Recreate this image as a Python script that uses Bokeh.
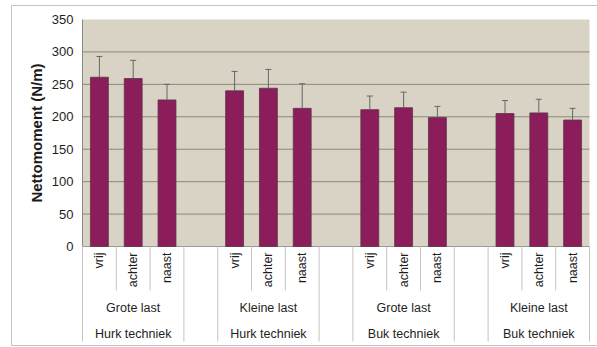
import math
from bokeh.plotting import figure
from bokeh.models import Range1d, ColumnDataSource
from bokeh.embed import file_html
from bokeh.resources import INLINE
from bokeh.core.properties import value

# ---------------- data ----------------
positions = ["vrij", "achter", "naast"]
loads = ["Grote last", "Kleine last", "Grote last", "Kleine last"]
techniques = ["Hurk techniek", "Hurk techniek", "Buk techniek", "Buk techniek"]
means = [
    [261, 259, 226],
    [240, 244, 213],
    [211, 214, 199],
    [205, 206, 195],
]
errors = [
    [32, 28, 24],
    [30, 29, 38],
    [21, 24, 17],
    [20, 21, 18],
]
y_ticks = [0, 50, 100, 150, 200, 250, 300, 350]
y_tick_labels = ["0", "50", "100", "150", "200", "250", "300", "350"]
y_label = "Nettomoment (N/m)"

# ---------------- layout (pixels) ----------------
W, H = 597, 347
PX_L, PX_R, PX_T, PX_B = 82, 589, 19, 246
n_pos = len(positions)
n_groups = len(loads)
n_slots = n_groups * (n_pos + 1) - 1
ymax = y_ticks[-1]
sx = (PX_R - PX_L) / n_slots
sy = (PX_B - PX_T) / ymax


def dx(px):
    return (px - PX_L) / sx


def dy(py):
    return (PX_B - py) / sy


FONT = value("Liberation Sans")

p = figure(width=W, height=H, x_range=Range1d(dx(0), dx(W)), y_range=Range1d(dy(H), dy(0)),
           output_backend="svg", toolbar_location=None, min_border=0,
           x_axis_type=None, y_axis_type=None)
p.outline_line_color = None
p.grid.visible = False
p.background_fill_color = "white"
p.border_fill_color = "white"

# outer chart border
p.quad(left=[dx(11)], right=[dx(W + 5)], bottom=[dy(345)], top=[dy(5)],
       fill_color=None, line_color="#C2C2C2", line_width=1)

# plot area
p.quad(left=[0], right=[n_slots], bottom=[0], top=[ymax],
       fill_color="#D9D3C6", line_color=None)

# gridlines
grid_y = [t for t in y_ticks if 0 < t < ymax]
p.segment(x0=[0] * len(grid_y), x1=[n_slots] * len(grid_y), y0=grid_y, y1=grid_y,
          line_color="#8E8779", line_width=1)

# axis lines
p.segment(x0=[0], x1=[0], y0=[0], y1=[ymax], line_color="#8A8A8A", line_width=1)
p.segment(x0=[0], x1=[n_slots], y0=[0], y1=[0], line_color="#9A9A9A", line_width=1)

# bars
xs, tops, errs, labs = [], [], [], []
for g in range(n_groups):
    for k in range(n_pos):
        xs.append(g * (n_pos + 1) + k + 0.5)
        tops.append(means[g][k])
        errs.append(means[g][k] + errors[g][k])
        labs.append(positions[k])
src = ColumnDataSource(dict(x=xs, top=tops, err=errs, lab=labs))
p.vbar(x="x", top="top", bottom=0, width=0.53, source=src,
       fill_color="#8B1D5B", line_color="#5A3347", line_width=0.8)

# error bars (plus direction only)
p.segment(x0="x", x1="x", y0="top", y1="err", source=src, line_color="#666666", line_width=1)
cap = 3.0 / sx
p.segment(x0=[x - cap for x in xs], x1=[x + cap for x in xs], y0=errs, y1=errs,
          line_color="#666666", line_width=1)

# category separators
short_x, long_x = [], []
for s in range(n_slots + 1):
    g, r = divmod(s, n_pos + 1)
    if r in (1, 2):
        short_x.append(s)
    else:
        long_x.append(s)
p.segment(x0=short_x, x1=short_x, y0=[0] * len(short_x), y1=[dy(290)] * len(short_x),
          line_color="#C4C4C4", line_width=1)
p.segment(x0=long_x, x1=long_x, y0=[0] * len(long_x), y1=[dy(341)] * len(long_x),
          line_color="#C4C4C4", line_width=1)

# position labels (rotated)
p.text(x="x", y=dy(252), text="lab", source=src, angle=math.pi / 2,
       text_align="right", text_baseline="middle", text_font=FONT,
       text_font_size="12.5px", text_color="#1E1E1E")

# group labels
gx = [g * (n_pos + 1) + n_pos / 2 for g in range(n_groups)]
p.text(x=gx, y=[dy(307)] * n_groups, text=loads, text_align="center", text_baseline="middle",
       text_font=FONT, text_font_size="12.5px", text_color="#1E1E1E")
p.text(x=gx, y=[dy(333)] * n_groups, text=techniques, text_align="center", text_baseline="middle",
       text_font=FONT, text_font_size="12.5px", text_color="#1E1E1E")

# y tick labels
p.text(x=[dx(73)] * len(y_ticks), y=y_ticks, text=y_tick_labels, text_align="right",
       text_baseline="middle", text_font=FONT, text_font_size="13px", text_color="#1E1E1E")

# y axis label
p.text(x=[dx(36)], y=[ymax / 2], text=[y_label], angle=math.pi / 2, text_align="center",
       text_baseline="middle", text_font=FONT, text_font_size="15px", text_font_style="bold",
       text_color="#1A1A1A")

open("out.html", "w").write(file_html(p, INLINE))
